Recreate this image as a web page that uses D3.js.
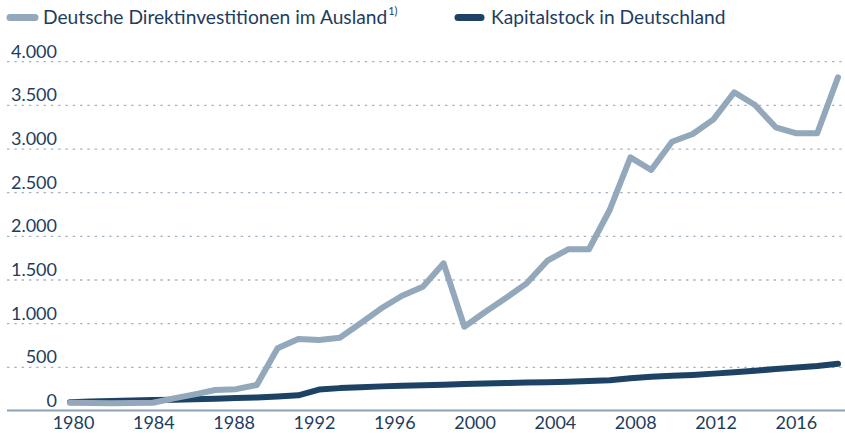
<!DOCTYPE html>
<html>
<head>
<meta charset="utf-8">
<script src="https://cdn.jsdelivr.net/npm/d3@7"></script>
<style>
  html, body { margin: 0; padding: 0; background: #fff; }
  #chart { width: 845px; height: 436px; }
  text { font-family: Lato, "Noto Sans", sans-serif; fill: #1e3d5e; }
</style>
</head>
<body>
<div id="chart"></div>
<script>

var years = d3.range(1980, 2018);

var direktinvestitionen = [
  95, 92, 90, 92, 95, 145, 190, 240, 250, 298,
  718, 825, 813, 839, 1004, 1176, 1320, 1423, 1691, 965,
  1134, 1294, 1462, 1721, 1852, 1852, 2302, 2905, 2760, 3084,
  3172, 3340, 3650, 3504, 3249, 3180, 3180, 3821
];

var kapitalstock = [
  100, 108, 115, 120, 125, 128, 135, 140, 148, 155,
  165, 180, 245, 262, 272, 282, 290, 296, 302, 308,
  315, 321, 325, 330, 336, 343, 352, 375, 392, 403,
  413, 428, 445, 462, 480, 497, 515, 540
];

var yTicks = [0, 500, 1000, 1500, 2000, 2500, 3000, 3500, 4000];
var xTickYears = [1980, 1984, 1988, 1992, 1996, 2000, 2004, 2008, 2012, 2016];
var labelYears = d3.range(1980, 2019);

var seriesNames = ['Deutsche Direktinvestitionen im Ausland', 'Kapitalstock in Deutschland'];
var colors = { fdi: '#93a8bb', stock: '#1c4264' };

var width = 845, height = 436;

var svg = d3.select('#chart').append('svg')
    .attr('width', width)
    .attr('height', height);

// scales
var x = d3.scalePoint()
    .domain(years)
    .range([70, 838]);

// tick labels sit on their own year grid, as in the original
var xLabels = d3.scalePoint()
    .domain(labelYears)
    .range([73, 836]);

var y = d3.scaleLinear()
    .domain([0, 4000])
    .range([411, 61.7]);

// gridlines
svg.append('g')
  .selectAll('line')
    .data(yTicks.filter(function (d) { return d > 0; }))
    .enter()
  .append('line')
    .attr('x1', 7)
    .attr('x2', width)
    .attr('y1', function (d) { return y(d); })
    .attr('y2', function (d) { return y(d); })
    .attr('stroke', '#a5b5c6')
    .attr('stroke-width', 1.3)
    .attr('stroke-dasharray', '2.5,4.8');

// y labels
var fmt = function (d) { return d3.format(',')(d).replace(/,/g, '.'); };

svg.append('g')
  .selectAll('text')
    .data(yTicks)
    .enter()
  .append('text')
    .attr('x', 57)
    .attr('y', function (d) { return y(d) - 4; })
    .attr('text-anchor', 'end')
    .attr('font-size', 18)
    .text(fmt);

// x axis
var xAxis = svg.append('g')
    .attr('transform', 'translate(0,410.5)')
    .call(d3.axisBottom(xLabels).tickValues(xTickYears).tickSize(0).tickPadding(6));

xAxis.select('.domain').remove();
xAxis.selectAll('text')
    .attr('font-size', 18)
    .attr('font-family', 'Lato, "Noto Sans", sans-serif')
    .attr('fill', '#1e3d5e');

svg.append('line')
    .attr('x1', 7)
    .attr('x2', width)
    .attr('y1', 410.5)
    .attr('y2', 410.5)
    .attr('stroke', '#8ea2b5')
    .attr('stroke-width', 2);

// lines
var line = d3.line()
    .x(function (d) { return x(d[0]); })
    .y(function (d) { return y(d[1]); });

svg.append('path')
    .datum(d3.zip(years, kapitalstock))
    .attr('d', line)
    .attr('fill', 'none')
    .attr('stroke', colors.stock)
    .attr('stroke-width', 6)
    .attr('stroke-linejoin', 'round')
    .attr('stroke-linecap', 'round');

svg.append('path')
    .datum(d3.zip(years, direktinvestitionen))
    .attr('d', line)
    .attr('fill', 'none')
    .attr('stroke', colors.fdi)
    .attr('stroke-width', 6)
    .attr('stroke-linejoin', 'round')
    .attr('stroke-linecap', 'round');

// legend
var legend = svg.append('g');

legend.append('line')
    .attr('x1', 10).attr('x2', 35)
    .attr('y1', 17.5).attr('y2', 17.5)
    .attr('stroke', colors.fdi)
    .attr('stroke-width', 7)
    .attr('stroke-linecap', 'round');

var t1 = legend.append('text')
    .attr('x', 43)
    .attr('y', 24)
    .attr('font-size', 19.2)
    .text(seriesNames[0]);

var w1 = t1.node().getComputedTextLength();

legend.append('text')
    .attr('x', 43 + w1 + 1)
    .attr('y', 15)
    .attr('font-size', 11)
    .text('1)');

legend.append('line')
    .attr('x1', 458).attr('x2', 481)
    .attr('y1', 17.5).attr('y2', 17.5)
    .attr('stroke', colors.stock)
    .attr('stroke-width', 7)
    .attr('stroke-linecap', 'round');

legend.append('text')
    .attr('x', 491)
    .attr('y', 24)
    .attr('font-size', 19.2)
    .text(seriesNames[1]);

</script>
</body>
</html>
